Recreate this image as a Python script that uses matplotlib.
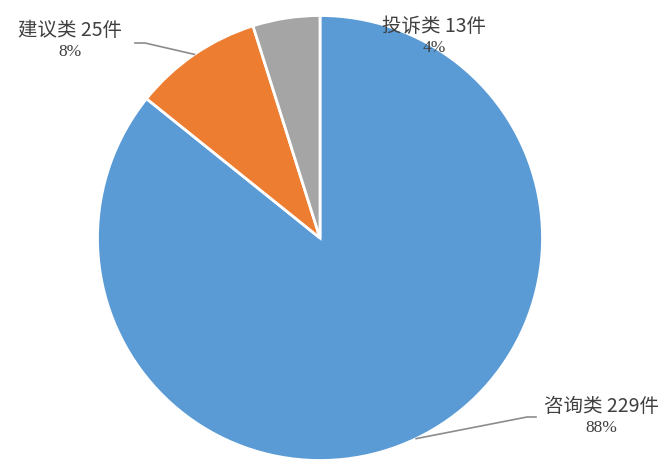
import numpy as np
import matplotlib.pyplot as plt

plt.rcParams['font.family'] = ['Noto Sans CJK SC', 'DejaVu Sans']

categories = ["咨询类", "建议类", "投诉类"]
counts = [229, 25, 13]
pct_labels = ["88%", "8%", "4%"]
colors = ["#5B9BD5", "#ED7D31", "#A5A5A5"]

W, H = 666, 468
fig = plt.figure(figsize=(W / 100, H / 100), dpi=100)
ax = fig.add_axes([0, 0, 1, 1])

cx, cy, r = 320, 230, 222.5
wedges, _ = ax.pie(counts, colors=colors, startangle=90, counterclock=False,
                   center=(cx, cy), radius=r,
                   wedgeprops=dict(edgecolor="white", linewidth=2))
ax.set_aspect("equal")
ax.set_xlim(0, W)
ax.set_ylim(0, H)
ax.axis("off")

# label positions (text centre) and elbow for leader lines
label_pos = {0: (601, 61), 1: (70, 437), 2: (434, 441)}
elbow = {0: (527, 51), 1: (145, 425), 2: None}
tc = "#404040"
for i, w in enumerate(wedges):
    mid = np.deg2rad((w.theta1 + w.theta2) / 2)
    px, py = cx + r * np.cos(mid), cy + r * np.sin(mid)
    tx, ty = label_pos[i]
    ax.text(tx, ty, f"{categories[i]} {counts[i]}件", ha="center", va="center",
            fontsize=14, color=tc)
    ax.text(tx, ty - 21, pct_labels[i], ha="center", va="center",
            fontsize=12.5, color=tc, family=["Liberation Serif", "DejaVu Serif"])
    if elbow[i] is not None:
        ex, ey = elbow[i]
        end = ex + 9 if i == 0 else ex - 10
        ax.plot([px, ex, end], [py, ey, ey], color="#8c8c8c", lw=1.2)

fig.savefig("out.png", dpi=100)
